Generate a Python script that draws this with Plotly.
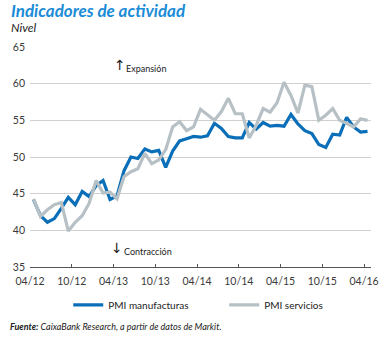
import plotly.graph_objects as go

# Months Apr-2012 .. Apr-2016 (index 0..48)
months = list(range(49))
tick_labels = ["04/12", "10/12", "04/13", "10/13", "04/14", "10/14", "04/15", "10/15", "04/16"]
tick_months = [0, 6, 12, 18, 24, 30, 36, 42, 48]

pmi_manufacturas = [
    44.2, 42.0, 41.1, 41.6, 43.0, 44.5, 43.5, 45.3, 44.6, 46.1, 46.8, 44.2,
    44.7, 48.1, 50.0, 49.8, 51.1, 50.7, 50.9, 48.6, 50.8, 52.2, 52.5, 52.8,
    52.7, 52.9, 54.6, 53.9, 52.8, 52.6, 52.6, 54.7, 53.8, 54.7, 54.2, 54.3,
    54.2, 55.8, 54.5, 53.6, 53.2, 51.7, 51.3, 53.1, 53.0, 55.4, 54.1, 53.4,
    53.5,
]
pmi_servicios = [
    44.3, 41.9, 42.8, 43.5, 43.8, 39.9, 41.1, 42.0, 43.7, 46.8, 45.1, 45.2,
    44.3, 47.3, 48.0, 48.4, 50.5, 49.1, 49.6, 51.0, 54.1, 54.8, 53.6, 54.1,
    56.5, 55.7, 55.0, 56.2, 58.0, 55.9, 55.9, 52.6, 54.3, 56.6, 56.1, 57.4,
    60.2, 58.4, 56.0, 59.8, 59.6, 55.0, 55.7, 56.6, 55.0, 54.6, 54.1, 55.2,
    55.0,
]

BLUE = "#0a6fb8"
GREY = "#b7c0c5"
FONT = "Lato"

fig = go.Figure()
fig.add_trace(go.Scatter(x=months, y=pmi_manufacturas, mode="lines",
                         name="PMI manufacturas", legend="legend",
                         line=dict(color=BLUE, width=3.2)))
fig.add_trace(go.Scatter(x=months, y=pmi_servicios, mode="lines",
                         name="PMI servicios", legend="legend2",
                         line=dict(color=GREY, width=3.2)))

W, H = 390, 338
L, R, T, B = 30, 12.3, 46.5, 71
pw, ph = W - L - R, H - T - B

def px(x):
    return (x - L) / pw

def py(y):
    return (H - B - y) / ph

leg_common = dict(orientation="h", yanchor="middle", xanchor="left",
                  font=dict(size=10, color="#222222", family=FONT),
                  itemwidth=30, bgcolor="rgba(0,0,0,0)", borderwidth=0)

fig.update_layout(
    width=W, height=H,
    margin=dict(l=L, r=R, t=T, b=B),
    paper_bgcolor="white", plot_bgcolor="white",
    font=dict(family=FONT, size=10, color="#333333"),
    showlegend=True,
    legend=dict(x=px(69), y=py(305), **leg_common),
    legend2=dict(x=px(228), y=py(305), **leg_common),
    xaxis=dict(range=[-0.5, 48.5], tickvals=[m - 0.5 for m in tick_months],
               ticktext=tick_labels, showgrid=False, zeroline=False,
               showline=True, linecolor="#555555", linewidth=1,
               ticks="inside", ticklen=3, tickcolor="#555555",
               ticklabelstandoff=4,
               tickfont=dict(size=10.5, color="#3a3a3a", family=FONT)),
    yaxis=dict(range=[35, 65], tickvals=[35, 40, 45, 50, 55, 60, 65],
               showgrid=True, gridcolor="#d0d0d0", gridwidth=1, zeroline=False,
               showline=False, ticks="", ticklabelstandoff=4,
               tickfont=dict(size=10.5, color="#3a3a3a", family=FONT)),
)

annos = [
    dict(text="<b><i>Indicadores de actividad</i></b>", x=px(9), y=py(10),
         font=dict(size=17, color="#1b8cd6", family=FONT)),
    dict(text="<i>Nivel</i>", x=px(9), y=py(27),
         font=dict(size=12, color="#222222", family=FONT)),
    dict(text="<i><b>Fuente:</b> CaixaBank Research, a partir de datos de Markit.</i>",
         x=px(8), y=py(327), font=dict(size=9, color="#222222", family=FONT)),
    dict(text="↑", x=px(114), y=py(65), font=dict(size=14, color="#222222", family="DejaVu Sans")),
    dict(text="Expansión", x=px(126), y=py(68), font=dict(size=9, color="#222222", family=FONT)),
    dict(text="↓", x=px(111), y=py(248), font=dict(size=14, color="#222222", family="DejaVu Sans")),
    dict(text="Contracción", x=px(124), y=py(251), font=dict(size=9, color="#222222", family=FONT)),
]
for a in annos:
    fig.add_annotation(xref="paper", yref="paper", xanchor="left", yanchor="middle",
                       showarrow=False, **a)

fig.write_html("out.html")
